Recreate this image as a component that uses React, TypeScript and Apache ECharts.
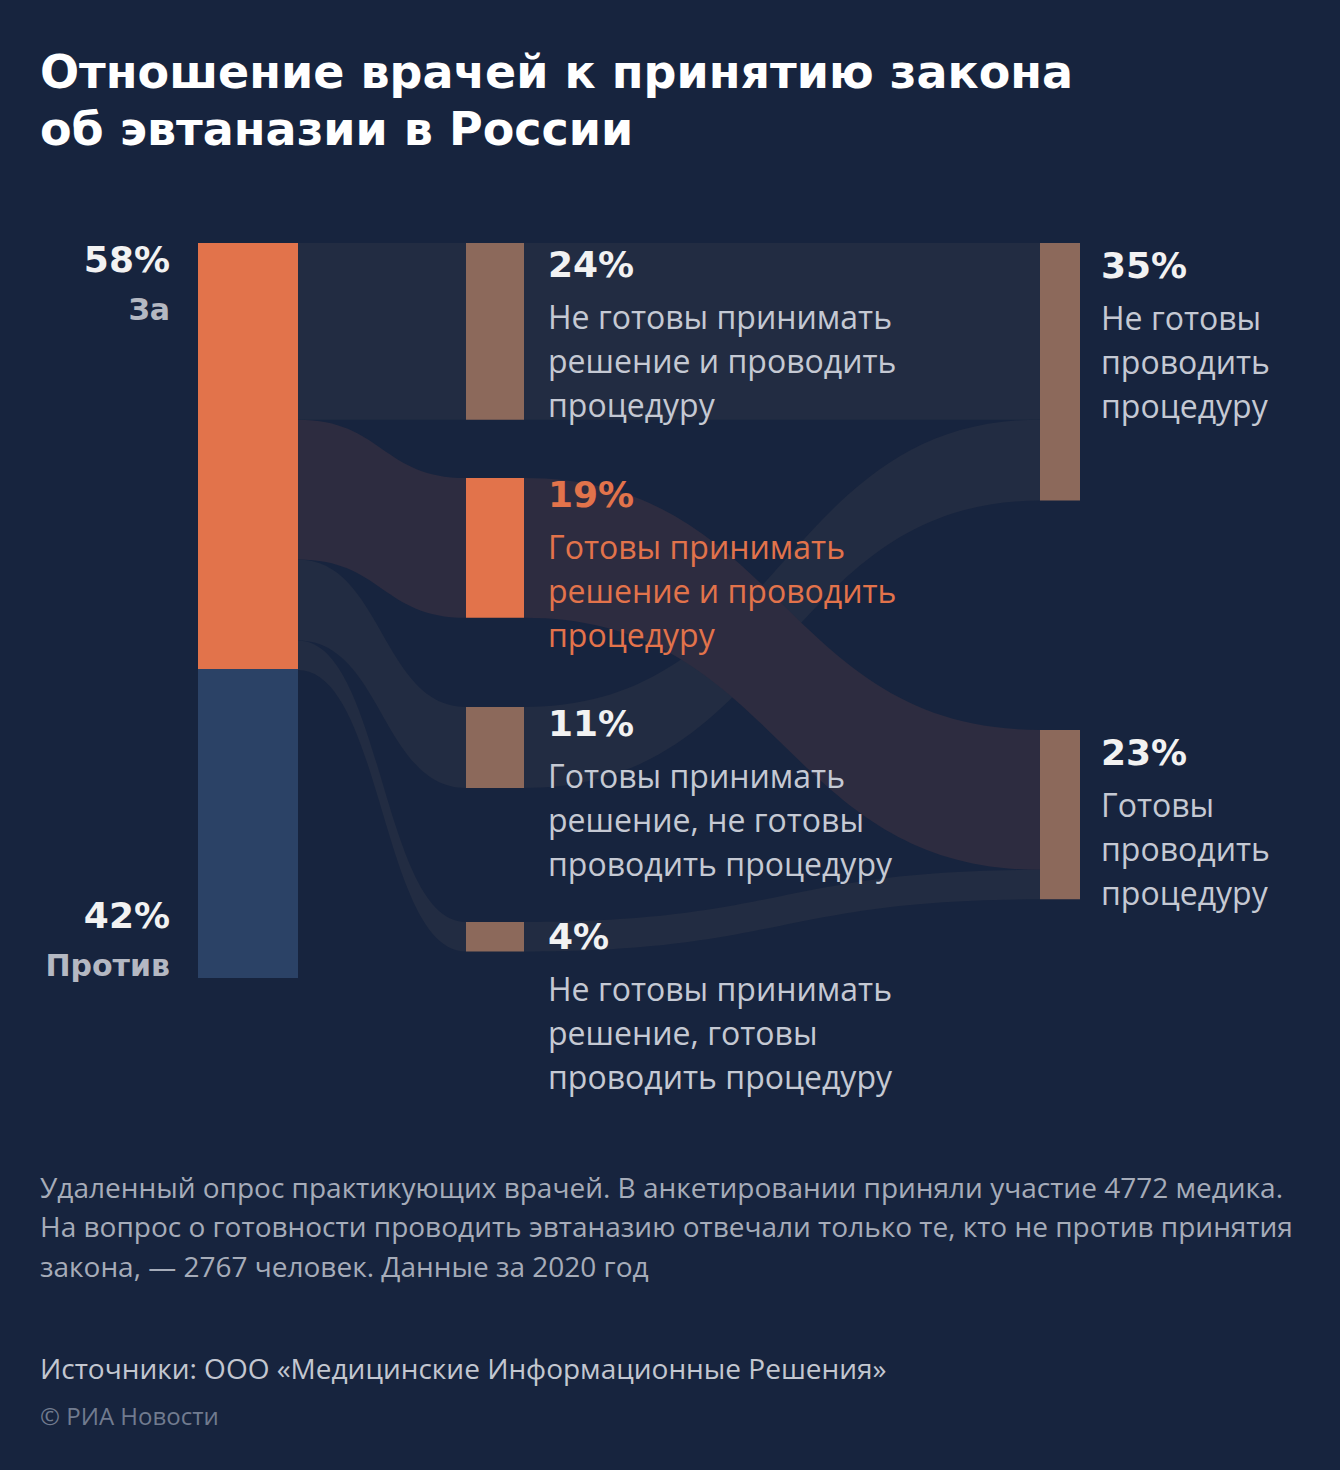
import React, { useEffect, useRef } from "react";
import * as echarts from "echarts";

// ---------- data ----------
const titleLines = ["Отношение врачей к принятию закона", "об эвтаназии в России"];

const leftNames = ["За", "Против"];
const leftValues = [58, 42];

const midNames = [
  "Не готовы принимать решение и проводить процедуру",
  "Готовы принимать решение и проводить процедуру",
  "Готовы принимать решение, не готовы проводить процедуру",
  "Не готовы принимать решение, готовы проводить процедуру",
];
const midValues = [24, 19, 11, 4];
const midLabelLines = [
  ["Не готовы принимать", "решение и проводить", "процедуру"],
  ["Готовы принимать", "решение и проводить", "процедуру"],
  ["Готовы принимать", "решение, не готовы", "проводить процедуру"],
  ["Не готовы принимать", "решение, готовы", "проводить процедуру"],
];

const rightNames = ["Не готовы проводить процедуру", "Готовы проводить процедуру"];
const rightValues = [35, 23];
const rightLabelLines = [
  ["Не готовы", "проводить", "процедуру"],
  ["Готовы", "проводить", "процедуру"],
];

// flows: За -> each middle node; middle node -> right node index
const midToRight = [0, 1, 0, 1];

const noteLines = [
  "Удаленный опрос практикующих врачей. В анкетировании приняли участие 4772 медика.",
  "На вопрос о готовности проводить эвтаназию отвечали только те, кто не против принятия",
  "закона, — 2767 человек. Данные за 2020 год",
];
const sourceText = "Источники: ООО «Медицинские Информационные Решения»";
const copyrightText = "© РИА Новости";

// ---------- layout / style ----------
const W = 1340;
const H = 1470;
const S_TOP = 243;
const S_H = 736;
const leftX = 198;
const midX = 466;
const rightX = 1040;
const leftTops = [243, 669];
const midTops = [243, 478, 707, 922];
const rightTops = [243, 730];
const midLabelDy = [-9, -14, -14, -16];
const rightLabelDy = [-8, -8];

const BG = "#17243e";
const ORANGE = "#e2734b";
const BLUE = "#2b4266";
const BROWN = "#8c695b";
const LINK_COOL = "#222c42";
const LINK_WARM = "#2d2c40";
const PCT_COLOR = "#f2f2f2";
const DESC_COLOR = "#c5c9d3";
const BOLD_FONT = "'DejaVu Sans', sans-serif";
const BODY_FONT = "'Open Sans', sans-serif";

const lx = (px: number) => px / W;
const ly = (py: number) => (py - S_TOP) / S_H;

const hidden = {
  itemStyle: { color: "rgba(0,0,0,0)", opacity: 0 },
  label: { show: false },
};

function pctRich(color: string, descColor: string) {
  return {
    p: {
      fontFamily: BOLD_FONT,
      fontWeight: "bold",
      fontSize: 36,
      lineHeight: 60,
      color,
    },
    d: {
      fontFamily: BODY_FONT,
      fontSize: 32,
      lineHeight: 44,
      color: descColor,
    },
  };
}

const leftRich = {
  p: { fontFamily: BOLD_FONT, fontWeight: "bold", fontSize: 36, lineHeight: 50, color: PCT_COLOR, align: "right" },
  t: { fontFamily: BOLD_FONT, fontWeight: "bold", fontSize: 30, lineHeight: 50, color: "#b4b8c2", align: "right" },
};

function buildOption() {
  const common = {
    type: "sankey",
    left: 0,
    top: S_TOP,
    width: W,
    height: S_H,
    nodeGap: 0,
    layoutIterations: 0,
    nodeAlign: "left",
    draggable: false,
    silent: true,
    emphasis: { disabled: true, focus: "none" },
    lineStyle: { curveness: 0.5, opacity: 1 },
  };

  // Series 1: left nodes and links to middle column
  const s1Data: any[] = [
    {
      name: leftNames[0],
      value: leftValues[0],
      localX: lx(leftX),
      localY: ly(leftTops[0]),
      itemStyle: { color: ORANGE },
      label: {
        show: true,
        position: [-28, -9],
        align: "right",
        verticalAlign: "top",
        formatter: `{p|${leftValues[0]}%}\n{t|${leftNames[0]}}`,
        rich: leftRich,
      },
    },
    {
      name: leftNames[1],
      value: leftValues[1],
      localX: lx(leftX),
      localY: ly(leftTops[1]),
      itemStyle: { color: BLUE },
      label: {
        show: true,
        position: [-28, "100%"],
        offset: [0, 12],
        align: "right",
        verticalAlign: "bottom",
        formatter: `{p|${leftValues[1]}%}\n{t|${leftNames[1]}}`,
        rich: leftRich,
      },
    },
    ...midNames.map((n, i) => ({
      name: n,
      value: midValues[i],
      localX: lx(midX),
      localY: ly(midTops[i]),
      ...hidden,
    })),
  ];
  const s1Links = midNames.map((n, i) => ({
    source: leftNames[0],
    target: n,
    value: midValues[i],
    lineStyle: { color: i === 1 ? LINK_WARM : LINK_COOL },
  }));

  // Series 2: middle nodes and links to right column
  const s2Data: any[] = [
    ...midNames.map((n, i) => {
      const isMain = i === 1;
      const pc = isMain ? ORANGE : PCT_COLOR;
      const dc = isMain ? ORANGE : DESC_COLOR;
      return {
        name: n,
        value: midValues[i],
        localX: lx(midX),
        localY: ly(midTops[i]),
        itemStyle: { color: isMain ? ORANGE : BROWN },
        label: {
          show: true,
          position: [82, midLabelDy[i]],
          align: "left",
          verticalAlign: "top",
          formatter: [`{p|${midValues[i]}%}`, ...midLabelLines[i].map((l) => `{d|${l}}`)].join("\n"),
          rich: pctRich(pc, dc),
        },
      };
    }),
    ...rightNames.map((n, i) => ({
      name: n,
      value: rightValues[i],
      localX: lx(rightX),
      localY: ly(rightTops[i]),
      ...hidden,
    })),
    { name: leftNames[1], value: leftValues[1], localX: lx(leftX), localY: ly(leftTops[1]), ...hidden },
  ];
  const linkOrder = [0, 2, 3, 1];
  const s2Links = linkOrder.map((i) => ({
    source: midNames[i],
    target: rightNames[midToRight[i]],
    value: midValues[i],
    lineStyle: { color: i === 1 ? LINK_WARM : LINK_COOL },
  }));

  // Series 3: right nodes (own width)
  const s3Data: any[] = [
    ...rightNames.map((n, i) => ({
      name: n,
      value: rightValues[i],
      localX: lx(rightX),
      localY: ly(rightTops[i]),
      itemStyle: { color: BROWN },
      label: {
        show: true,
        position: [61, rightLabelDy[i]],
        align: "left",
        verticalAlign: "top",
        formatter: [`{p|${rightValues[i]}%}`, ...rightLabelLines[i].map((l) => `{d|${l}}`)].join("\n"),
        rich: pctRich(PCT_COLOR, DESC_COLOR),
      },
    })),
    { name: leftNames[1], value: leftValues[1], localX: lx(leftX), localY: ly(leftTops[1]), ...hidden },
  ];

  const graphics: any[] = [
    {
      type: "text",
      x: 40,
      y: 43,
      style: {
        text: titleLines.join("\n"),
        font: `bold 46px ${BOLD_FONT}`,
        lineHeight: 57,
        fill: "#ffffff",
        verticalAlign: "top",
      },
    },
    {
      type: "text",
      x: 40,
      y: 1167,
      style: {
        text: noteLines.join("\n"),
        font: `28px ${BODY_FONT}`,
        lineHeight: 39.5,
        fill: "#a6acb9",
        verticalAlign: "top",
      },
    },
    {
      type: "text",
      x: 40,
      y: 1348,
      style: {
        text: sourceText,
        font: `28px ${BODY_FONT}`,
        lineHeight: 40,
        fill: "#c3c7d0",
        verticalAlign: "top",
      },
    },
    {
      type: "text",
      x: 40,
      y: 1400,
      style: {
        text: copyrightText,
        font: `24px ${BODY_FONT}`,
        lineHeight: 30,
        fill: "#717b8f",
        verticalAlign: "top",
      },
    },
  ];

  return {
    animation: false,
    backgroundColor: BG,
    graphic: graphics,
    series: [
      { ...common, nodeWidth: 100, data: s1Data, links: s1Links },
      { ...common, nodeWidth: 58, data: s2Data, links: s2Links },
      { ...common, nodeWidth: 40, data: s3Data, links: [] },
    ],
  };
}

export default function App() {
  const ref = useRef<HTMLDivElement>(null);
  useEffect(() => {
    document.body.style.margin = "0";
    if (!ref.current) return;
    const chart = echarts.init(ref.current, undefined, { renderer: "svg" });
    chart.setOption(buildOption() as any);
    return () => chart.dispose();
  }, []);
  return <div ref={ref} style={{ width: W, height: H }} />;
}
